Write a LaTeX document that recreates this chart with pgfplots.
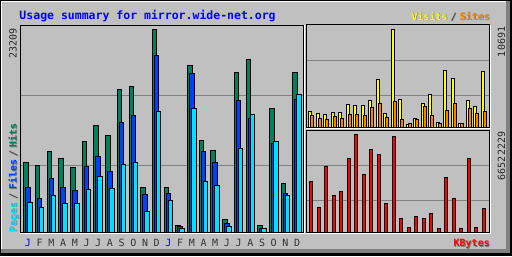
\documentclass[border=0pt]{standalone}
\usepackage{fontspec}
\setmonofont{DejaVu Sans Mono}
\usepackage{pgfplots}
\pgfplotsset{compat=1.18}
\definecolor{bg}{HTML}{C0C0C0}
\definecolor{dk}{HTML}{808080}
\definecolor{hitc}{HTML}{00805C}
\definecolor{filec}{HTML}{0040FF}
\definecolor{pagec}{HTML}{00E0FF}
\definecolor{visitc}{HTML}{FFFF00}
\definecolor{sitec}{HTML}{FF8000}
\definecolor{kbc}{HTML}{FF0000}
\definecolor{titlec}{HTML}{0000FF}
\newcommand{\sm}{\ttfamily\fontsize{10bp}{10bp}\selectfont}
\newcommand{\smb}{\ttfamily\bfseries\fontsize{10bp}{10bp}\selectfont}
\newcommand{\tl}{\ttfamily\bfseries\fontsize{11.5bp}{11.5bp}\selectfont}
\pgfplotsset{panel/.style={scale only axis, anchor=south west,
  axis line style={line width=1bp, black},
  xtick style={draw=none}, ytick style={draw=none}, major tick length=0pt,
  ymajorgrids, major grid style={dk, line width=1bp},
  yticklabels={}, scaled y ticks=false, ymin=0}}
\pgfplotsset{wbar/.style={ybar, draw=black, line width=1bp}}
\begin{document}
\begin{tikzpicture}
\begin{scope}[x=1bp,y=1bp]
\useasboundingbox (0,0) rectangle (512,256);
\fill[black] (0,0) rectangle (512,256);
\fill[dk] (1,3.5) rectangle (509.5,255);
\fill[white] (1,7) rectangle (505.5,255);
\fill[bg] (2,7) rectangle (505.5,254);
\end{scope}

% Left: Hits / Files / Pages
\begin{axis}[panel, at={(20bp,23.5bp)}, width=283bp, height=207.5bp,
  xmin=0.316, xmax=24.5, ymax=23723, ytick={7683,15686},
  xtick={1,...,24},
  xticklabels={\textcolor{titlec}{J},F,M,A,M,J,J,A,S,O,N,D,\textcolor{titlec}{J},F,M,A,M,J,J,A,S,O,N,D},
  xticklabel style={font=\sm, text=black!80, anchor=base, inner sep=0pt, yshift=-14bp}]
\addplot[wbar, bar width=4.5bp, bar shift=-2bp, fill=hitc] coordinates {
(1,8003)(2,7660)(3,9261)(4,8460)(5,7431)(6,10404)(7,12233)(8,11090)(9,16349)(10,16692)(11,5145)(12,23209)
(13,5145)(14,800)(15,19093)(16,10518)(17,9375)(18,1486)(19,18293)(20,19779)(21,800)(22,14177)(23,5602)(24,18293)};
\addplot[wbar, bar width=4.5bp, bar shift=0bp, fill=filec] coordinates {
(1,5145)(2,3887)(3,6174)(4,5145)(5,4802)(6,7546)(7,8689)(8,6974)(9,12576)(10,13377)(11,4345)(12,20236)
(13,4459)(14,686)(15,18178)(16,9261)(17,8003)(18,1029)(19,15092)(20,13034)(21,457)(22,10175)(23,4459)(24,15206)};
\addplot[wbar, bar width=4.5bp, bar shift=2bp, fill=pagec] coordinates {
(1,3430)(2,2858)(3,4230)(4,3316)(5,3316)(6,4916)(7,6402)(8,5031)(9,7774)(10,8003)(11,2401)(12,13834)
(13,3659)(14,457)(15,14177)(16,5831)(17,5374)(18,686)(19,9604)(20,13491)(21,457)(22,10404)(23,4230)(24,15778)};
\end{axis}

% Top right: Visits / Sites
\begin{axis}[panel, at={(306bp,128.5bp)}, width=183bp, height=102.5bp,
  xmin=0.335, xmax=24.67, ymax=11183, ytick={3513,7332}, xtick=\empty]
\addplot[wbar, bar width=3bp, bar shift=-1bp, fill=visitc] coordinates {
(1,1778)(2,1560)(3,1451)(4,1669)(5,1669)(6,2542)(7,2433)(8,2433)(9,2978)(10,5270)(11,1560)(12,10691)
(13,3088)(14,327)(15,1015)(16,2651)(17,3633)(18,578)(19,6251)(20,5379)(21,469)(22,2978)(23,2324)(24,6142)};
\addplot[wbar, bar width=3bp, bar shift=1bp, fill=sitec] coordinates {
(1,1342)(2,1015)(3,906)(4,1233)(5,1015)(6,1451)(7,1451)(8,1342)(9,2215)(10,2651)(11,1124)(12,2869)
(13,906)(14,436)(15,906)(16,2324)(17,1342)(18,469)(19,1887)(20,2651)(21,469)(22,2106)(23,1560)(24,1778)};
\end{axis}

% Bottom right: KBytes
\begin{axis}[panel, at={(306bp,23.5bp)}, width=183bp, height=102.5bp,
  xmin=0.335, xmax=24.67, ymax=69576795, ytick={21860000,45610000}, xtick=\empty]
\addplot[wbar, bar width=3bp, bar shift=0bp, fill=kbc] coordinates {
(1,34620000)(2,16970000)(3,44800000)(4,25120000)(5,27830000)(6,50230000)(7,66522229)(8,39370000)
(9,56340000)(10,52950000)(11,19690000)(12,65160000)(13,9500000)(14,3390000)(15,10860000)(16,9500000)
(17,12900000)(18,2720000)(19,37330000)(20,23080000)(21,2720000)(22,50230000)(23,3390000)(24,16290000)};
\end{axis}

\begin{scope}[x=1bp,y=1bp]
% white highlights of sunken panels
\draw[white, line width=1bp] (19.5,22.5) -- (304,22.5) -- (304,231.5);
\draw[white, line width=1bp] (305.5,127.5) -- (490,127.5) -- (490,231.5);
\draw[white, line width=1bp] (305.5,22.5) -- (490,22.5) -- (490,126.5);
% title
\node[anchor=base west, inner sep=0pt, text=titlec, font=\tl] at (19.3,236.7) {Usage summary for mirror.wide-net.org};
% Visits / Sites
\node[anchor=base east, inner sep=0pt, font=\smb, text=dk] at (490.8,235.2) {Visits\hspace{3bp}/\hspace{3bp}Sites};
\node[anchor=base east, inner sep=0pt, font=\smb] at (490,236) {\textcolor{visitc}{Visits}\hspace{3bp}\textcolor{black!70}{/}\hspace{3bp}\textcolor{sitec}{Sites}};
% KBytes
\node[anchor=base east, inner sep=0pt, font=\smb, text=dk] at (490.8,8.9) {KBytes};
\node[anchor=base east, inner sep=0pt, font=\smb, text=kbc] at (490,9.7) {KBytes};
% Pages / Files / Hits
\node[rotate=90, anchor=base west, inner sep=0pt, font=\smb, text=dk] at (17.3,22.9) {Pages\hspace{3bp}/\hspace{3bp}Files\hspace{3bp}/\hspace{3bp}Hits};
\node[rotate=90, anchor=base west, inner sep=0pt, font=\smb] at (16.5,23.7) {\textcolor{pagec}{Pages}\hspace{3bp}\textcolor{black!70}{/}\hspace{3bp}\textcolor{filec}{Files}\hspace{3bp}\textcolor{black!70}{/}\hspace{3bp}\textcolor{hitc}{Hits}};
% maxima
\node[rotate=90, anchor=base east, inner sep=0pt, font=\sm, text=black!85] at (16.7,227.7) {23209};
\node[rotate=90, anchor=base east, inner sep=0pt, font=\sm, text=black!85] at (505,229.3) {10691};
\node[rotate=90, anchor=base east, inner sep=0pt, font=\sm, text=black!85] at (505,124.3) {66522229};
\end{scope}
\end{tikzpicture}
\end{document}
